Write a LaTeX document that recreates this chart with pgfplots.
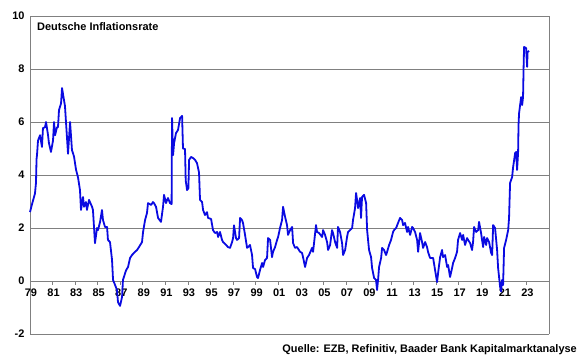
\documentclass[border=0pt]{standalone}
\usepackage{fontspec}
\setmainfont{Liberation Sans}
\usepackage{pgfplots}
\pgfplotsset{compat=1.18}
\usepackage{pgfplotstable}
\definecolor{lineblue}{RGB}{10,10,225}
\definecolor{gridgray}{RGB}{128,128,128}
\pgfplotstableread{
x y
1979.00 2.6
1979.18 2.9
1979.44 3.3
1979.53 3.7
1979.58 4.6
1979.62 4.75
1979.71 5.3
1979.89 5.5
1980.06 5.06
1980.15 5.77
1980.33 5.8
1980.42 6.0
1980.60 5.5
1980.68 5.2
1980.86 4.87
1981.04 5.3
1981.13 6.0
1981.22 5.5
1981.39 5.8
1981.48 5.8
1981.57 6.45
1981.75 6.7
1981.84 7.28
1982.10 6.6
1982.37 4.8
1982.55 6.0
1982.72 4.94
1982.90 4.7
1983.08 4.2
1983.26 3.9
1983.43 3.43
1983.52 2.68
1983.70 3.17
1983.79 2.8
1983.96 2.98
1984.05 2.68
1984.23 3.06
1984.50 2.8
1984.58 2.68
1984.76 1.43
1984.94 2.0
1985.03 1.92
1985.21 2.23
1985.38 2.68
1985.47 2.3
1985.65 2.04
1985.83 2.04
1985.91 1.55
1986.09 1.47
1986.27 0.8
1986.36 0.04
1986.54 -0.15
1986.71 -0.34
1986.80 -0.8
1986.98 -0.94
1987.16 -0.6
1987.24 0.04
1987.51 0.4
1987.69 0.53
1987.87 0.87
1988.04 0.98
1988.31 1.1
1988.49 1.17
1988.66 1.28
1988.93 1.47
1989.02 1.85
1989.20 2.3
1989.37 2.57
1989.46 2.94
1989.73 2.87
1989.90 2.98
1989.99 2.94
1990.17 2.8
1990.35 2.38
1990.61 2.23
1990.79 2.8
1990.88 3.25
1991.06 2.94
1991.15 3.06
1991.23 3.13
1991.41 2.94
1991.55 2.9
1991.59 6.15
1991.68 4.75
1991.77 5.2
1991.94 5.58
1992.12 5.7
1992.30 6.15
1992.48 6.23
1992.56 5.0
1992.74 4.98
1992.80 3.8
1992.92 3.43
1993.04 3.5
1993.10 4.57
1993.27 4.68
1993.45 4.64
1993.63 4.57
1993.80 4.45
1993.98 4.1
1994.07 3.06
1994.25 2.98
1994.34 2.68
1994.51 2.49
1994.69 2.6
1994.78 2.38
1995.05 2.34
1995.22 1.92
1995.40 1.81
1995.58 1.85
1995.67 1.66
1995.84 1.85
1996.02 1.55
1996.11 1.47
1996.38 1.36
1996.55 1.28
1996.73 1.25
1996.91 1.47
1997.00 1.62
1997.08 2.1
1997.26 1.62
1997.35 1.55
1997.53 1.62
1997.62 2.38
1997.79 2.3
1997.88 2.19
1998.06 1.74
1998.24 1.25
1998.33 1.28
1998.50 1.36
1998.68 0.98
1998.77 0.49
1998.95 0.45
1999.12 0.15
1999.21 0.11
1999.39 0.42
1999.57 0.68
1999.66 0.53
1999.83 0.79
2000.01 0.87
2000.10 1.62
2000.28 1.55
2000.45 0.9
2000.54 1.1
2000.72 1.28
2000.90 1.55
2000.99 1.66
2001.16 2.0
2001.34 2.3
2001.43 2.8
2001.61 2.42
2001.78 2.11
2001.87 1.74
2002.05 1.92
2002.23 2.04
2002.32 1.43
2002.49 1.25
2002.67 1.28
2002.94 1.1
2003.11 1.06
2003.20 0.9
2003.38 0.53
2003.56 0.87
2003.73 0.98
2004.00 1.25
2004.09 1.1
2004.35 2.11
2004.44 1.85
2004.62 1.81
2004.89 1.66
2004.98 1.92
2005.15 1.74
2005.33 1.47
2005.42 1.17
2005.60 1.36
2005.77 1.92
2005.86 1.81
2006.04 1.47
2006.22 1.25
2006.30 2.04
2006.48 1.85
2006.66 1.43
2006.75 0.98
2006.93 1.17
2007.10 1.66
2007.19 1.85
2007.37 1.92
2007.55 2.0
2007.63 2.3
2007.81 2.75
2007.90 3.32
2007.99 3.06
2008.08 2.75
2008.26 3.13
2008.34 2.38
2008.43 3.17
2008.61 3.25
2008.79 2.94
2008.88 1.92
2009.05 1.17
2009.23 0.9
2009.32 0.49
2009.50 0.11
2009.67 0.04
2009.76 -0.34
2009.85 0.04
2009.94 0.53
2010.12 0.87
2010.21 1.25
2010.38 1.17
2010.56 0.98
2010.65 1.1
2010.83 1.36
2011.00 1.55
2011.18 1.85
2011.27 1.92
2011.45 2.0
2011.62 2.19
2011.80 2.38
2011.98 2.3
2012.07 2.11
2012.24 2.19
2012.42 1.85
2012.51 2.04
2012.69 1.74
2012.87 2.04
2012.95 2.0
2013.13 1.85
2013.31 1.55
2013.40 1.1
2013.57 1.81
2013.75 1.47
2013.84 1.25
2014.02 1.47
2014.19 1.28
2014.28 1.1
2014.46 0.87
2014.64 0.87
2014.73 0.87
2014.90 0.42
2015.08 -0.04
2015.17 0.3
2015.35 0.9
2015.52 1.17
2015.61 0.9
2015.79 0.98
2015.97 0.53
2016.06 0.6
2016.23 0.15
2016.41 0.49
2016.50 0.68
2016.68 0.87
2016.85 1.1
2016.94 1.55
2017.12 1.81
2017.30 1.55
2017.39 1.74
2017.56 1.36
2017.74 1.62
2017.83 1.55
2018.01 1.43
2018.18 1.17
2018.27 1.47
2018.36 2.04
2018.54 1.85
2018.72 1.92
2018.80 2.23
2018.98 1.81
2019.16 1.28
2019.25 1.66
2019.43 1.36
2019.51 1.62
2019.69 1.47
2019.87 1.06
2019.96 0.98
2020.05 2.11
2020.22 2.0
2020.40 1.17
2020.49 0.49
2020.67 -0.23
2020.76 -0.4
2020.84 0.04
2020.93 -0.15
2021.02 1.25
2021.20 1.55
2021.38 1.92
2021.46 2.38
2021.55 3.7
2021.73 3.92
2021.82 4.3
2022.00 4.83
2022.09 4.87
2022.17 4.19
2022.26 4.83
2022.30 5.9
2022.35 6.34
2022.53 6.94
2022.62 6.64
2022.70 6.94
2022.75 8.08
2022.79 8.83
2022.97 8.79
2023.06 8.08
2023.10 8.64
2023.24 8.68
}\inflation
\begin{document}
\begin{tikzpicture}
\path[use as bounding box] (-30bp,-24bp) rectangle (550bp,334bp);
\begin{axis}[
  scale only axis,
  width=519bp, height=318bp,
  xmin=1979, xmax=2025,
  ymin=-2, ymax=10,
  axis x line*=middle,
  axis y line*=box,
  hide obscured x ticks=false,
  axis line style={draw=gridgray, line width=0.8bp},
  ytick={-2,0,2,4,6,8,10},
  ymajorgrids,
  grid style={draw=gridgray, line width=0.8bp},
  xtick={1979,1981,1983,1985,1987,1989,1991,1993,1995,1997,1999,2001,2003,2005,2007,2009,2011,2013,2015,2017,2019,2021,2023},
  xticklabels={79,81,83,85,87,89,91,93,95,97,99,01,03,05,07,09,11,13,15,17,19,21,23},
  x tick style={draw=gridgray, line width=0.8bp},
  xtick align=outside,
  major tick length=4bp,
  ytick style={draw=none},
  /pgf/number format/assume math mode=true,
  tick label style={font=\fontsize{11}{12}\selectfont\bfseries},
  xticklabel style={xshift=1bp},
  yticklabel style={xshift=-2bp},
  clip=false,
]
\addplot[color=lineblue, line width=1.8bp, line join=round] table[x=x,y=y] {\inflation};
\end{axis}
\node[anchor=west, inner sep=0pt, font=\fontsize{11}{12}\selectfont\bfseries] at (7bp,307bp) {Deutsche Inflationsrate};
\node[anchor=east, inner sep=0pt, font=\fontsize{11}{12}\selectfont\bfseries] at (547bp,-16bp) {Quelle: EZB, Refinitiv, Baader Bank Kapitalmarktanalyse};
\end{tikzpicture}
\end{document}
